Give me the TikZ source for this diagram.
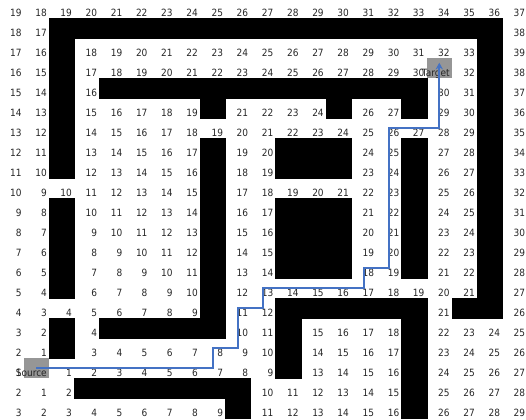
\documentclass[tikz,border=0pt]{standalone}
\usepackage{fontspec}
\newfontfamily\cellfont{DejaVu Sans Condensed}
\usetikzlibrary{arrows.meta,calc}

\definecolor{routeblue}{RGB}{68,114,196}
\definecolor{endgray}{RGB}{150,150,150}

\begin{document}
\begin{tikzpicture}[x=0.75pt, y=-0.75pt,
		wall/.style={fill=black, draw=black, line width=0.2pt},
		endcell/.style={fill=endgray, draw=none, inner sep=0pt, minimum width=18.9pt, minimum height=15pt},
		val/.style={font=\cellfont\fontsize{7.5}{9}\selectfont, text=black!85, inner sep=0pt, anchor=base east},
		route/.style={draw=routeblue, line width=1.3pt, -{Stealth[length=5pt, width=5.5pt]}}]

	\def\cw{25.18} \def\ch{20}   % cell size (px)
	\def\xo{-1.35} \def\yo{-2}   % where the grid starts
	\def\pad{2}                  % gap between a value and the cell border
	\def\wallmark{x} \def\srcmark{s} \def\tgtmark{t}

	\useasboundingbox (0,0) rectangle (526,419);

	% distance map: x = wall, s = source, t = target
	\foreach \rowvals [count=\r from 0] in {
		{19,18,19,20,21,22,23,24,25,26,27,28,29,30,31,32,33,34,35,36,37},
		{18,17,x,x,x,x,x,x,x,x,x,x,x,x,x,x,x,x,x,x,38},
		{17,16,x,18,19,20,21,22,23,24,25,26,27,28,29,30,31,32,33,x,39},
		{16,15,x,17,18,19,20,21,22,23,24,25,26,27,28,29,30,t,32,x,38},
		{15,14,x,16,x,x,x,x,x,x,x,x,x,x,x,x,x,30,31,x,37},
		{14,13,x,15,16,17,18,19,x,21,22,23,24,x,26,27,x,29,30,x,36},
		{13,12,x,14,15,16,17,18,19,20,21,22,23,24,25,26,27,28,29,x,35},
		{12,11,x,13,14,15,16,17,x,19,20,x,x,x,24,25,x,27,28,x,34},
		{11,10,x,12,13,14,15,16,x,18,19,x,x,x,23,24,x,26,27,x,33},
		{10,9,10,11,12,13,14,15,x,17,18,19,20,21,22,23,x,25,26,x,32},
		{9,8,x,10,11,12,13,14,x,16,17,x,x,x,21,22,x,24,25,x,31},
		{8,7,x,9,10,11,12,13,x,15,16,x,x,x,20,21,x,23,24,x,30},
		{7,6,x,8,9,10,11,12,x,14,15,x,x,x,19,20,x,22,23,x,29},
		{6,5,x,7,8,9,10,11,x,13,14,x,x,x,18,19,x,21,22,x,28},
		{5,4,x,6,7,8,9,10,x,12,13,14,15,16,17,18,19,20,21,x,27},
		{4,3,4,5,6,7,8,9,x,11,12,x,x,x,x,x,x,21,x,x,26},
		{3,2,x,4,x,x,x,x,x,10,11,x,15,16,17,18,x,22,23,24,25},
		{2,1,x,3,4,5,6,7,8,9,10,x,14,15,16,17,x,23,24,25,26},
		{1,s,1,2,3,4,5,6,7,8,9,x,13,14,15,16,x,24,25,26,27},
		{2,1,2,x,x,x,x,x,x,x,10,11,12,13,14,15,x,25,26,27,28},
		{3,2,3,4,5,6,7,8,9,x,11,12,13,14,15,16,x,26,27,28,29}}{
		\foreach \v [count=\c from 0] in \rowvals {
			\pgfmathsetmacro{\xl}{\xo + \c*\cw}
			\pgfmathsetmacro{\xr}{\xl + \cw}
			\pgfmathsetmacro{\yt}{\yo + \r*\ch}
			\pgfmathsetmacro{\yb}{\yt + \ch}
			\coordinate (m-\r-\c) at ({\xl+0.5*\cw},{\yt+0.5*\ch});
			\edef\cellv{\v}
			\ifx\cellv\wallmark
				\fill[wall] (\xl,\yt) rectangle (\xr,\yb);
			\else\ifx\cellv\srcmark
				\node[endcell] (src) at (m-\r-\c) {};
				\node[val] (src-label) at (\xr-\pad,\yb-\pad) {Source};
			\else\ifx\cellv\tgtmark
				\node[endcell] (tgt) at (m-\r-\c) {};
				\node[val] (tgt-label) at (\xr-\pad,\yb-\pad) {Target};
			\else
				\node[val] (n-\r-\c) at (\xr-\pad,\yb-\pad) {\cellv};
			\fi\fi\fi
		}
	}

	% shortest route
	\draw[route] (src.center) -- (m-18-8) -- (m-17-8) -- (m-17-9) -- (m-15-9)
		-- (m-15-10) -- (m-14-10) -- (m-14-14) -- (m-13-14) -- (m-13-15)
		-- (m-6-15) -- (m-6-17) -- ($(tgt.north)+(0,5)$);

\end{tikzpicture}
\end{document}
